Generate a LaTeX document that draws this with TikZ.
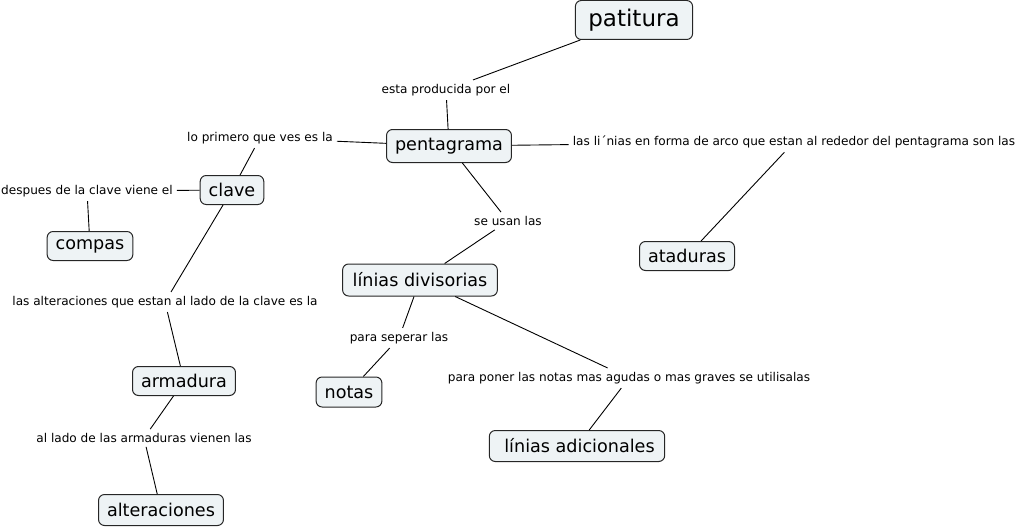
\documentclass[tikz,border=0pt]{standalone}
\usepackage{fontspec}
\setmainfont{DejaVu Sans}
\usepackage{xcolor}
\usetikzlibrary{positioning}
\definecolor{cfill}{HTML}{EEF3F5}

\begin{document}
\begin{tikzpicture}[
  x=1pt, y=-1pt,
  concept/.style={rectangle, rounded corners=6pt, draw=black!85, fill=cfill, line width=1pt,
                  inner xsep=8.5pt, inner ysep=3pt, minimum height=29pt,
                  font=\fontsize{17.6}{20}\selectfont},
  top/.style={concept, inner xsep=13pt, minimum height=39pt, font=\fontsize{23}{26}\selectfont},
  lbl/.style={inner sep=4pt, font=\fontsize{12.1}{13}\selectfont},
  e/.style={line width=0.9pt, draw=black},
]
\useasboundingbox (0,0) rectangle (1022,527);
\node[top]     (patitura) at (634,20)  {patitura};
\node[concept, minimum height=33pt] (penta) at (449,146) {pentagrama};
\node[concept] (clave)    at (232,190) {clave};
\node[concept] (compas)   at (90,246)  {compas};
\node[concept] (ataduras) at (687,256) {ataduras};
\node[concept, minimum height=32pt, inner xsep=10pt] (divis) at (420,280) {línias divisorias};
\node[concept] (armadura) at (184,381) {armadura};
\node[concept, minimum height=30pt] (notas) at (349,392) {notas};
\node[concept, minimum height=31pt, inner xsep=10pt] (adic) at (577,446) {\hspace{5pt}línias adicionales};
\node[concept, minimum height=31pt] (alter) at (161,510) {alteraciones};

\node[lbl] (lProd)    at (446,90)  {esta producida por el};
\node[lbl] (lPrimero) at (260,138) {lo primero que ves es la};
\node[lbl] (lArco)    at (794,142) {las li´nias en forma de arco que estan al rededor del pentagrama son las};
\node[lbl] (lDespues) at (87,191)  {despues de la clave viene el};
\node[lbl] (lUsan)    at (508,221) {se usan las};
\node[lbl] (lAlt)     at (165,302) {las alteraciones que estan al lado de la clave es la};
\node[lbl] (lSeperar) at (399,338) {para seperar las};
\node[lbl] (lPoner)   at (629,378) {para poner las notas mas agudas o mas graves se utilisalas};
\node[lbl] (lLado)    at (144,438) {al lado de las armaduras vienen las};

\draw[e] (patitura) -- (lProd);
\draw[e] (lProd) -- (penta);
\draw[e] (penta) -- (lPrimero);
\draw[e] (lPrimero) -- (clave);
\draw[e] (clave) -- (lDespues);
\draw[e] (lDespues) -- (compas);
\draw[e] (clave) -- (lAlt);
\draw[e] (lAlt) -- (armadura);
\draw[e] (armadura) -- (lLado);
\draw[e] (lLado) -- (alter);
\draw[e] (penta) -- (lArco);
\draw[e] (lArco) -- (ataduras);
\draw[e] (penta) -- (lUsan);
\draw[e] (lUsan) -- (divis);
% lines from the divisorias concept
\draw[e] (divis) -- (lSeperar);
\draw[e] (lSeperar) -- (notas);
\draw[e] (divis) -- (lPoner);
\draw[e] (lPoner) -- (adic);
\end{tikzpicture}
\end{document}
